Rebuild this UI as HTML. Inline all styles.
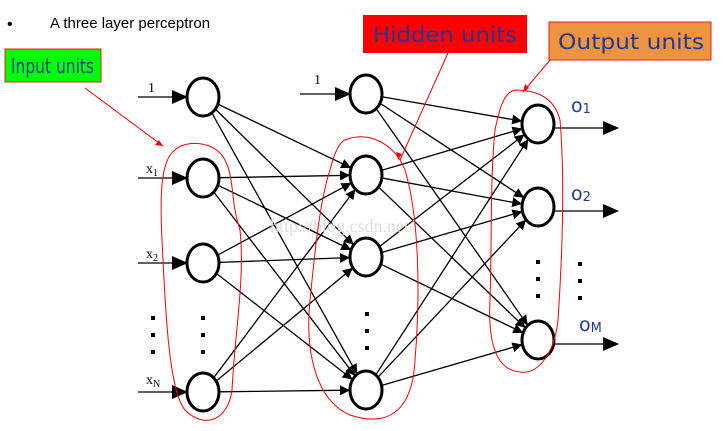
<!DOCTYPE html>
<html><head><style>
html,body{margin:0;padding:0;background:#fff;width:723px;height:431px;overflow:hidden}
svg{display:block}
.lbl{font-family:"DejaVu Sans","Liberation Sans",sans-serif;fill:#1f3a93}
</style></head><body>
<svg id="s" width="723" height="431" xmlns="http://www.w3.org/2000/svg">
<defs>
<marker id="ah" markerWidth="10" markerHeight="10" refX="9" refY="5" orient="auto" markerUnits="userSpaceOnUse"><path d="M0,0 L10,5 L0,10 z" fill="#000"/></marker>
<marker id="ab" markerWidth="16" markerHeight="14" refX="15" refY="7" orient="auto" markerUnits="userSpaceOnUse"><path d="M0,0 L16,7 L0,14 z" fill="#000"/></marker>
</defs>
<text x="7" y="29" font-family="Liberation Sans,sans-serif" font-size="16">•</text>
<text x="50" y="28" font-family="Liberation Sans,sans-serif" font-size="15">A three layer perceptron</text>
<rect x="5" y="49" width="96" height="33" fill="#00ff00" stroke="#e02020" stroke-width="1"/>
<text x="11" y="73" class="lbl" font-size="20" textLength="83" lengthAdjust="spacingAndGlyphs">Input units</text>
<rect x="363" y="15" width="164" height="38" fill="#ff0000"/>
<text x="373" y="42" class="lbl" font-size="21" textLength="144" lengthAdjust="spacingAndGlyphs">Hidden units</text>
<rect x="549" y="22" width="162" height="38" fill="#ee9340" stroke="#e02020" stroke-width="1"/>
<text x="558" y="49" class="lbl" font-size="21" textLength="146" lengthAdjust="spacingAndGlyphs">Output units</text>
<g id="g" stroke="#000" stroke-width="1.3" fill="none"></g>
<g font-family="Liberation Serif,serif" font-size="14">
<text x="148" y="92">1</text><text x="314" y="84">1</text>
<text x="146" y="173">x<tspan font-size="10" dy="3">1</tspan></text>
<text x="146" y="258">x<tspan font-size="10" dy="3">2</tspan></text>
<text x="146" y="384">x<tspan font-size="10" dy="3">N</tspan></text>
</g>
<g class="lbl" font-size="19">
<text x="571" y="112">o<tspan font-size="13" dy="1">1</tspan></text>
<text x="571" y="200">o<tspan font-size="13" dy="1">2</tspan></text>
<text x="579" y="331">o<tspan font-size="13" dy="1">M</tspan></text>
</g>
<g fill="#000">
<rect x="151" y="316" width="4" height="4"/><rect x="151" y="333" width="4" height="4"/><rect x="151" y="350" width="4" height="4"/>
<rect x="201" y="316" width="4" height="4"/><rect x="201" y="333" width="4" height="4"/><rect x="201" y="350" width="4" height="4"/>
<rect x="365" y="312" width="4" height="4"/><rect x="365" y="329" width="4" height="4"/><rect x="365" y="346" width="4" height="4"/>
<rect x="536" y="260" width="4" height="4"/><rect x="536" y="277" width="4" height="4"/><rect x="536" y="294" width="4" height="4"/>
<rect x="578" y="262" width="4" height="4"/><rect x="578" y="279" width="4" height="4"/><rect x="578" y="296" width="4" height="4"/>
</g>
<text x="270" y="232" font-family="Liberation Serif,serif" font-size="18" fill="#ddd">http://blog.csdn.net/</text>
<g stroke="#ff0000" stroke-width="1" fill="none">
<path d="M175,150 C185,140 215,140 225,160 C235,180 230,200 240,230 C245,280 235,330 232,390 C228,420 205,430 185,410 C168,390 165,300 162,240 C160,200 160,160 175,150 Z"/>
<path d="M345,140 C370,130 395,145 405,170 C420,220 420,300 415,360 C412,420 380,425 350,415 C315,400 305,350 310,300 C315,250 320,200 330,170 C335,150 340,142 345,140 Z"/>
<path d="M515,90 C540,90 555,100 560,120 C565,180 562,260 558,320 C555,350 540,375 520,372 C495,370 488,340 490,300 C492,240 490,180 495,130 C500,105 505,92 515,90 Z"/>
<line x1="85" y1="88" x2="163" y2="146"/><line x1="448" y1="53" x2="400" y2="160"/><line x1="550" y1="60" x2="523" y2="92"/>
</g>
<g fill="#ff0000"><path d="M163,146 l-8,-1 l4,-5z"/><path d="M398,160 l-2,-8 l6,2z"/><path d="M523,92 l2,-8 l4,4z"/></g>
</svg>
<script>
var g=document.getElementById('g'),NS='http://www.w3.org/2000/svg';
function L(x1,y1,x2,y2,m){var l=document.createElementNS(NS,'line');l.setAttribute('x1',x1);l.setAttribute('y1',y1);l.setAttribute('x2',x2);l.setAttribute('y2',y2);if(m)l.setAttribute('marker-end','url(#'+m+')');g.appendChild(l);}
function E(x,y){var e=document.createElementNS(NS,'ellipse');e.setAttribute('cx',x);e.setAttribute('cy',y);e.setAttribute('rx',16);e.setAttribute('ry',19);e.setAttribute('stroke-width',3);e.setAttribute('fill','#fff');g.appendChild(e);}
var I=[[203,97],[203,178],[203,263],[203,392]],H=[[366,94],[366,175],[366,257],[366,390]],O=[[538,124],[538,207],[538,340]];
function conn(a,b){var dx=b[0]-a[0],dy=b[1]-a[1],d=Math.hypot(dx,dy);var ux=dx/d,uy=dy/d;function r(u,v){return 1/Math.sqrt(u*u/256+v*v/361);}var ra=r(ux,uy),rb=r(ux,uy);L(a[0]+ux*ra,a[1]+uy*ra,b[0]-ux*(rb+1),b[1]-uy*(rb+1),'ah');}
I.forEach(function(a){H.slice(1).forEach(function(b){conn(a,b);});});
H.forEach(function(a){O.forEach(function(b){conn(a,b);});});
[[138,97],[138,178],[138,263],[138,392]].forEach(function(p,i){L(p[0],p[1],187,I[i][1],'ab');});
L(300,94,350,94,'ab');
O.forEach(function(o){L(554,o[1]+4,618,o[1]+4,'ab');});
I.forEach(function(p){E(p[0],p[1]);});H.forEach(function(p){E(p[0],p[1]);});O.forEach(function(p){E(p[0],p[1]);});
</script>
</body></html>
